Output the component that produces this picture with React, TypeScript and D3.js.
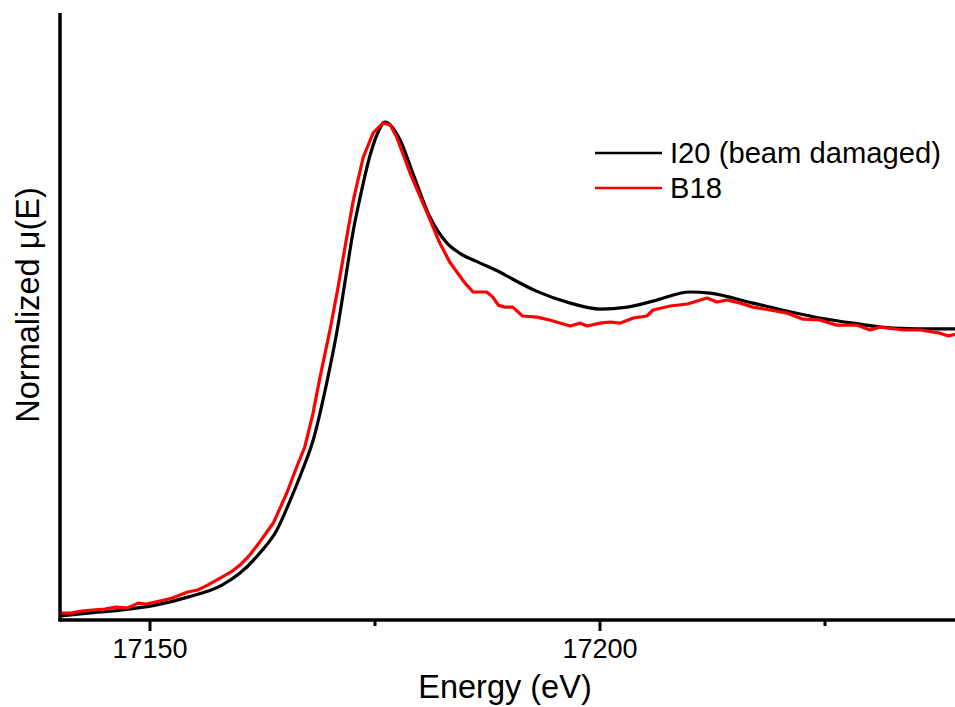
import React from "react";
import * as d3 from "d3";

// Energy (eV) and normalized mu(E)
const i20Energy = [17140.0, 17143.1, 17146.9, 17150.6, 17154.2, 17158.0, 17160.0, 17162.2, 17164.1, 17165.6, 17166.9, 17168.1, 17169.7, 17170.8, 17171.7, 17172.6, 17173.3, 17174.4, 17175.3, 17176.1, 17176.9, 17177.8, 17179.2, 17181.1, 17183.0, 17184.4, 17186.7, 17188.9, 17190.0, 17193.0, 17196.7, 17200.0, 17203.0, 17205.9, 17210.0, 17212.2, 17217.0, 17220.8, 17224.4, 17228.1, 17232.6, 17238.0, 17240.0];
const i20Mu = [-0.007, 0.003, 0.014, 0.031, 0.059, 0.101, 0.143, 0.213, 0.294, 0.399, 0.5, 0.605, 0.818, 0.993, 1.168, 1.343, 1.45, 1.598, 1.682, 1.72, 1.703, 1.657, 1.542, 1.388, 1.297, 1.262, 1.227, 1.195, 1.176, 1.128, 1.087, 1.066, 1.073, 1.094, 1.126, 1.122, 1.087, 1.059, 1.035, 1.017, 1.0, 0.997, 0.997];

const b18Energy = [17140.0, 17141.2, 17142.4, 17143.6, 17145.0, 17146.2, 17147.5, 17148.7, 17149.6, 17150.6, 17152.4, 17154.2, 17155.3, 17156.4, 17158.0, 17159.0, 17160.0, 17161.0, 17162.2, 17163.7, 17165.2, 17166.3, 17167.2, 17168.1, 17168.9, 17170.0, 17170.9, 17172.0, 17172.6, 17173.7, 17174.8, 17175.9, 17176.7, 17177.4, 17178.9, 17180.8, 17182.2, 17183.3, 17184.1, 17185.0, 17185.9, 17186.7, 17187.4, 17188.1, 17188.7, 17189.4, 17190.3, 17191.4, 17193.0, 17194.4, 17196.7, 17197.8, 17198.6, 17200.0, 17201.1, 17202.2, 17203.7, 17205.2, 17205.9, 17207.8, 17209.7, 17211.9, 17213.0, 17214.1, 17215.6, 17217.0, 17218.9, 17220.8, 17222.6, 17224.4, 17226.3, 17228.6, 17230.0, 17231.1, 17231.9, 17233.7, 17235.6, 17237.8, 17238.7, 17240.0];
const b18Mu = [0.003, 0.003, 0.010, 0.014, 0.017, 0.024, 0.021, 0.038, 0.035, 0.042, 0.055, 0.077, 0.084, 0.101, 0.129, 0.147, 0.171, 0.203, 0.252, 0.318, 0.423, 0.514, 0.584, 0.7, 0.829, 0.993, 1.143, 1.343, 1.448, 1.598, 1.682, 1.717, 1.71, 1.668, 1.542, 1.402, 1.297, 1.231, 1.196, 1.157, 1.126, 1.126, 1.126, 1.108, 1.08, 1.073, 1.073, 1.042, 1.038, 1.028, 1.007, 1.017, 1.007, 1.017, 1.021, 1.017, 1.035, 1.042, 1.063, 1.077, 1.084, 1.105, 1.091, 1.098, 1.087, 1.073, 1.063, 1.052, 1.031, 1.028, 1.01, 1.01, 0.993, 1.003, 1.0, 0.993, 0.993, 0.982, 0.972, 0.982];

const majorTicks = [17150, 17200];
const minorTicks = [17175, 17225];
const seriesNames = ["I20 (beam damaged)", "B18"];
const seriesColors = ["#000000", "#ff0000"];

const W = 955;
const H = 707;
const FONT = "'Liberation Sans', Arial, sans-serif";

export default function App() {
  const x = d3.scaleLinear().domain([17140, 17240]).range([60, 960]);
  const y = d3.scaleLinear().domain([-0.021, 2.098]).range([620, 14]);

  const i20 = i20Energy.map((e, i) => [e, i20Mu[i]] as [number, number]);
  const b18 = b18Energy.map((e, i) => [e, b18Mu[i]] as [number, number]);

  const smooth = d3
    .line<[number, number]>()
    .x((d) => x(d[0]))
    .y((d) => y(d[1]))
    .curve(d3.curveMonotoneX);
  const rough = d3
    .line<[number, number]>()
    .x((d) => x(d[0]))
    .y((d) => y(d[1]))
    .curve(d3.curveLinear);

  return (
    <svg
      width={W}
      height={H}
      style={{ position: "absolute", left: 0, top: 0, background: "#fff" }}
      fontFamily={FONT}
    >
      <defs>
        <clipPath id="plot">
          <rect x={61} y={0} width={W - 61} height={619} />
        </clipPath>
      </defs>
      <rect x={0} y={0} width={W} height={H} fill="#fff" />
      <g clipPath="url(#plot)">
        <path d={smooth(i20) || ""} fill="none" stroke={seriesColors[0]} strokeWidth={3.2} strokeLinejoin="round" />
        <path d={rough(b18) || ""} fill="none" stroke={seriesColors[1]} strokeWidth={3.2} strokeLinejoin="round" />
      </g>
      {/* axes */}
      <line x1={60} x2={60} y1={13} y2={621.5} stroke="#000" strokeWidth={3.5} />
      <line x1={58.5} x2={W} y1={620} y2={620} stroke="#000" strokeWidth={3.5} />
      {majorTicks.map((t) => (
        <g key={t}>
          <line x1={x(t)} x2={x(t)} y1={620} y2={631} stroke="#000" strokeWidth={3} />
          <text x={x(t)} y={658} fontSize={27} textAnchor="middle" fill="#000">
            {t}
          </text>
        </g>
      ))}
      {minorTicks.map((t) => (
        <line key={t} x1={x(t)} x2={x(t)} y1={620} y2={626} stroke="#000" strokeWidth={3} />
      ))}
      <text x={505} y={698} fontSize={32.5} textAnchor="middle" fill="#000">
        Energy (eV)
      </text>
      <text
        transform="translate(39,305) rotate(-90)"
        fontSize={32.5}
        textAnchor="middle"
        fill="#000"
      >
        Normalized μ(E)
      </text>
      {/* legend */}
      {seriesNames.map((n, i) => (
        <g key={n} transform={`translate(0,${i * 35})`}>
          <line x1={595} x2={662} y1={153} y2={153} stroke={seriesColors[i]} strokeWidth={2.5} />
          <text x={670} y={163} fontSize={29.2} fill="#000">
            {n}
          </text>
        </g>
      ))}
    </svg>
  );
}
